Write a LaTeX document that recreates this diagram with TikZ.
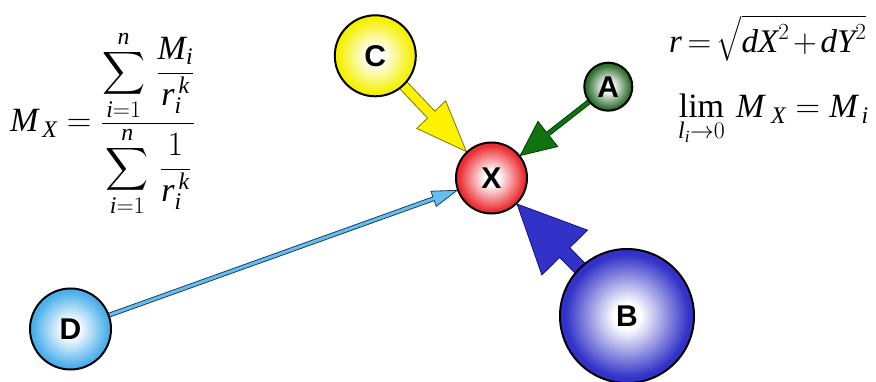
\RequirePackage{fix-cm}
\documentclass[tikz,border=0pt]{standalone}
\usepackage{amsmath}
\usepackage{exscale}
\usepackage{fontspec}
\setmainfont{Liberation Serif}
\newfontfamily\labfont{Liberation Sans}
\usetikzlibrary{calc}
\pgfdeclarelayer{background}
\pgfsetlayers{background,main}
\colorlet{orbcol}{red}
\pgfdeclareradialshading[orbcol]{orb}{\pgfpoint{0bp}{0bp}}{color(0bp)=(white); color(5bp)=(white); color(14bp)=(orbcol!50!white); color(23bp)=(orbcol); color(50bp)=(orbcol)}
\definecolor{cY}{RGB}{245,240,0}
\definecolor{cA}{RGB}{45,110,45}
\definecolor{cX}{RGB}{235,45,50}
\definecolor{cB}{RGB}{50,50,200}
\definecolor{cD}{RGB}{75,175,235}
\newcommand\vi[1]{\textit{#1}}
\newcommand\bigsum{\mathop{\vcenter{\hbox{\scalebox{1.2}{$\displaystyle\sum$}}}}\limits}
\newcommand\fatarrow[8]{%
  \coordinate (fa-s) at ($(#1)!#2!(#3)$);
  \coordinate (fa-t) at ($(#3)!#4!(#1)$);
  \coordinate (fa-b) at ($(fa-t)!#7!(fa-s)$);
  \filldraw[#8] ($(fa-s)!#5!90:(fa-t)$) -- ($(fa-b)!#5!90:(fa-t)$) -- ($(fa-b)!#6!90:(fa-t)$)
     -- (fa-t) -- ($(fa-b)!#6!-90:(fa-t)$) -- ($(fa-b)!#5!-90:(fa-t)$) -- ($(fa-s)!#5!-90:(fa-t)$) -- cycle;
}
\tikzset{
  orb/.style={circle, draw=black, line width=2pt, inner sep=0pt, shade, shading=orb,
    font=\labfont\bfseries\fontsize{30}{30}\selectfont, /utils/exec={\colorlet{orbcol}{#1}}},
  formula/.style={inner sep=0pt, font=\fontsize{34}{40}\selectfont},
  arrowshape/.style={line width=0.8pt, line join=miter}
}
\begin{document}
\begin{tikzpicture}[x=1pt,y=-1pt]
\useasboundingbox (0,0) rectangle (876,382);
% nodes
\node[orb=cX, minimum size=71pt] (X) at (491.5,178) {X};
\node[orb=cY, minimum size=81pt] (C) at (375.3,55.8) {C};
\node[orb=cA, minimum size=48pt] (A) at (608.3,86.7) {A};
\node[orb=cB, minimum size=134pt] (B) at (627,316) {B};
\node[orb=cD, minimum size=81pt] (D) at (70.5,329) {D};
% connectors
\begin{pgfonlayer}{background}
\fatarrow{C}{36pt}{X}{36.5pt}{5pt}{20pt}{51pt}{arrowshape, fill=yellow, draw={rgb,255:red,120;green,120;blue,0}}
\fatarrow{A}{20pt}{X}{36.5pt}{2.2pt}{16pt}{35pt}{arrowshape, fill={rgb,255:red,15;green,115;blue,15}, draw={rgb,255:red,0;green,60;blue,0}}
\fatarrow{B}{60pt}{X}{36.5pt}{7pt}{32pt}{68pt}{arrowshape, fill={rgb,255:red,50;green,50;blue,200}, draw={rgb,255:red,20;green,20;blue,110}}
\fatarrow{D}{36pt}{X}{36.5pt}{2pt}{8pt}{25pt}{arrowshape, fill={rgb,255:red,100;green,190;blue,240}, draw={rgb,255:red,30;green,60;blue,90}}
\end{pgfonlayer}
% formulas
\node[formula, anchor=base west] (f1) at (10,132)
  {$\vi{M}_{\,\vi{X}} = \dfrac{\bigsum_{\vi{i}=1}^{\vi{n}}\, \dfrac{\vi{M}_{\vi{i}}}{\vi{r}_{\vi{i}}^{\,\vi{k}}}}{\bigsum_{\vi{i}=1}^{\vi{n}}\, \dfrac{1}{\vi{r}_{\vi{i}}^{\,\vi{k}}}}$};
\node[formula, anchor=base west, font=\fontsize{33}{38}\selectfont] (f2) at (669,53)
  {$\thickmuskip=3mu \medmuskip=2mu \vi{r} = \sqrt{\rule{0pt}{0.88em}\vi{dX}^{\smash{2}} + \vi{dY}^{\smash{2}}}$};
\node[formula, anchor=base west] (f3) at (678,118)
  {$\displaystyle\lim_{\vi{l}_{\vi{i}}\to 0}\, \vi{M}_{\;\vi{X}} = \vi{M}_{\,\vi{i}}$};
\end{tikzpicture}
\end{document}
